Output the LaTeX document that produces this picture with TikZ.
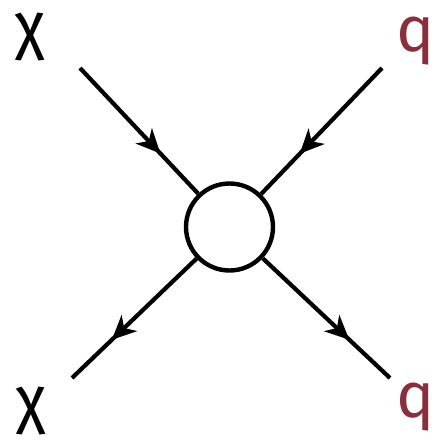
\documentclass[tikz,border=0pt]{standalone}
\usepackage{fontspec}
\setmainfont{Fira Sans}
\usetikzlibrary{arrows.meta,decorations.markings}
\definecolor{quark}{RGB}{140,45,60}

\begin{document}
\begin{tikzpicture}[
    x=1pt, y=-1pt,
    font=\fontsize{64}{64}\selectfont,
    vert/.style={draw, circle, line width=4.4pt, minimum size=87pt, inner sep=0pt},
    leg/.style={line width=4.2pt, postaction={decorate},
      decoration={markings, mark=at position 0.68 with
        {\arrow{Stealth[length=24pt, width=22pt, inset=7pt]}}}},
    lab/.style={inner sep=0pt}
  ]
    \useasboundingbox (0,0) rectangle (438,440);
    \node[vert] (v) at (229.5,227) {};
    \coordinate (chiin) at (80,68);
    \coordinate (qin) at (382,68);
    \coordinate (chiout) at (72,378);
    \coordinate (qout) at (390,378);
    \node[lab] (chia) at (30,37) {χ};
    \node[lab, text=quark] (qa) at (416,41) {q};
    \node[lab] (chib) at (31,411) {χ};
    \node[lab, text=quark] (qb) at (416,407) {q};
    \draw[leg] (chiin) -- (v);
    \draw[leg] (qin) -- (v);
    \draw[leg] (v) -- (chiout);
    \draw[leg] (v) -- (qout);
\end{tikzpicture}
\end{document}
